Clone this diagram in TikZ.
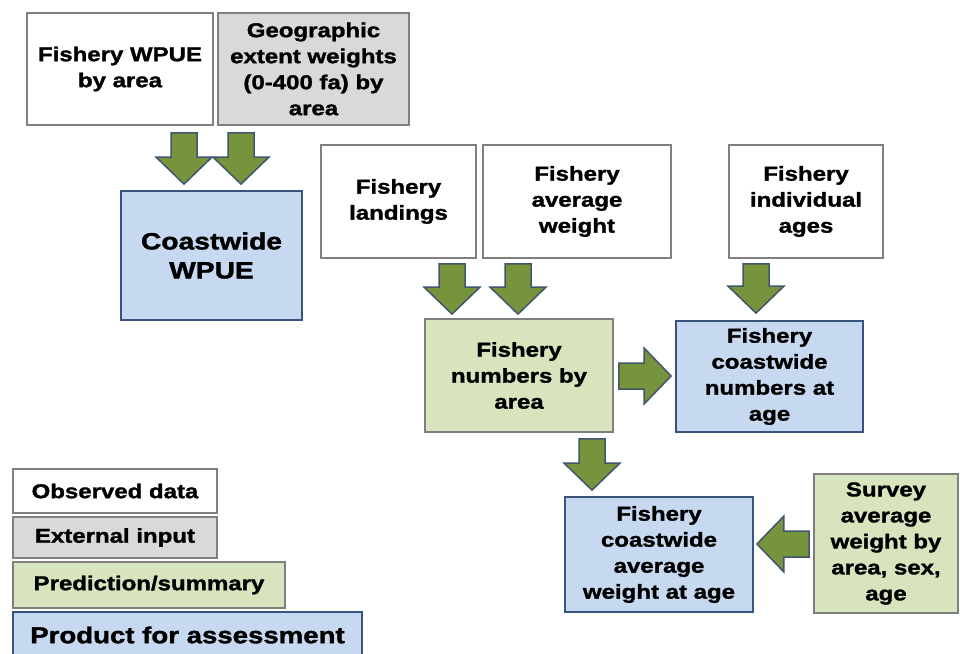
\documentclass[tikz,border=0pt]{standalone}
\usepackage{fontspec}
\setmainfont{Liberation Sans}[FakeStretch=1.2,BoldFeatures={FakeBold=1.5}]
\usetikzlibrary{calc}

\definecolor{edgegrey}{RGB}{127,127,127}
\definecolor{inputgrey}{RGB}{217,217,217}
\definecolor{predgreen}{RGB}{215,228,189}
\definecolor{prodblue}{RGB}{198,217,241}
\definecolor{prodedge}{RGB}{56,83,125}
\definecolor{arrowgreen}{RGB}{119,147,60}
\definecolor{arrowedge}{RGB}{65,85,110}

\begin{document}
\begin{tikzpicture}[x=1pt,y=-1pt,
  font=\fontsize{20}{26}\selectfont\bfseries,
  box/.style={draw=edgegrey,line width=1.8pt,align=center,inner sep=0pt},
  observed/.style={box,fill=white},
  external/.style={box,fill=inputgrey},
  predicted/.style={box,fill=predgreen},
  product/.style={box,draw=prodedge,fill=prodblue},
  fatarrow/.style={draw=arrowedge,fill=arrowgreen,line width=1.5pt,line join=miter,
    to path={let \p1=(\tikztostart), \p2=(\tikztotarget),
      \n1={veclen(\x2-\x1,\y2-\y1)}, \n2={(\x2-\x1)/\n1}, \n3={(\y2-\y1)/\n1} in
      ({\x1-13*\n3},{\y1+13*\n2})
      -- ({\x2-27*\n2-13*\n3},{\y2-27*\n3+13*\n2})
      -- ({\x2-27*\n2-28*\n3},{\y2-27*\n3+28*\n2})
      -- (\x2,\y2)
      -- ({\x2-27*\n2+28*\n3},{\y2-27*\n3-28*\n2})
      -- ({\x2-27*\n2+13*\n3},{\y2-27*\n3-13*\n2})
      -- ({\x1+13*\n3},{\y1-13*\n2})
      -- cycle}}]

\useasboundingbox (0,0) rectangle (960,653);

% Inputs and products
\node[observed,minimum width=186pt,minimum height=112pt] (wpue) at (120,69) {Fishery WPUE\\by area};
\node[external,minimum width=191pt,minimum height=112pt] (geo) at (313.5,69) {Geographic\\extent weights\\(0-400 fa) by\\area};
\node[product,minimum width=181pt,minimum height=129pt,font=\fontsize{23.5}{29}\selectfont\bfseries] (cwpue) at (211.5,255.5) {Coastwide\\WPUE};

\node[observed,minimum width=155pt,minimum height=113pt] (land) at (398.5,201.5) {Fishery\\landings};
\node[observed,minimum width=188pt,minimum height=113pt] (avgw) at (577,201.5) {Fishery\\average\\weight};
\node[observed,minimum width=154pt,minimum height=113pt] (ages) at (806,201.5) {Fishery\\individual\\ages};

\node[predicted,minimum width=188pt,minimum height=113pt] (numarea) at (519,375.5) {Fishery\\numbers by\\area};
\node[product,minimum width=187pt,minimum height=111pt] (numage) at (769.5,376.5) {Fishery\\coastwide\\numbers at\\age};
\node[product,minimum width=188pt,minimum height=115pt] (wtage) at (659,554.5) {Fishery\\coastwide\\average\\weight at age};
\node[predicted,minimum width=144pt,minimum height=139pt] (survey) at (886,543.5) {Survey\\average\\weight by\\area, sex,\\age};

% Key
\node[observed,minimum width=204pt,minimum height=44pt] (keyobs) at (115,491) {Observed data};
\node[external,minimum width=204pt,minimum height=41pt] (keyext) at (115,537.5) {External input};
\node[predicted,minimum width=272pt,minimum height=46pt] (keypred) at (149,585) {Prediction/summary};
\node[product,minimum width=349pt,minimum height=46pt,font=\fontsize{23}{28}\selectfont\bfseries] (keyprod) at (187.5,635) {Product for assessment};

% Lanes for the block arrows
\coordinate (laneA) at (184,0);
\coordinate (laneB) at (241,0);
\coordinate (laneC) at (452,0);
\coordinate (laneD) at (518,0);
\coordinate (laneE) at (756,0);
\coordinate (laneF) at (592,0);
\coordinate (rowA) at (0,376);
\coordinate (rowB) at (0,544);

\draw[fatarrow] ($(wpue.south -| laneA)+(0,7)$) to ($(cwpue.north -| laneA)+(0,-6)$);
\draw[fatarrow] ($(geo.south -| laneB)+(0,7)$) to ($(cwpue.north -| laneB)+(0,-6)$);
\draw[fatarrow] ($(land.south -| laneC)+(0,5)$) to ($(numarea.north -| laneC)+(0,-4)$);
\draw[fatarrow] ($(avgw.south -| laneD)+(0,5)$) to ($(numarea.north -| laneD)+(0,-4)$);
\draw[fatarrow] ($(ages.south -| laneE)+(0,5)$) to ($(numage.north -| laneE)+(0,-7)$);
\draw[fatarrow] ($(numarea.east |- rowA)+(5,0)$) to ($(numage.west |- rowA)+(-4,0)$);
\draw[fatarrow] ($(numarea.south -| laneF)+(0,6)$) to ($(wtage.north -| laneF)+(0,-6)$);
\draw[fatarrow] ($(survey.west |- rowB)+(-4,0)$) to ($(wtage.east |- rowB)+(3,0)$);

\end{tikzpicture}
\end{document}
